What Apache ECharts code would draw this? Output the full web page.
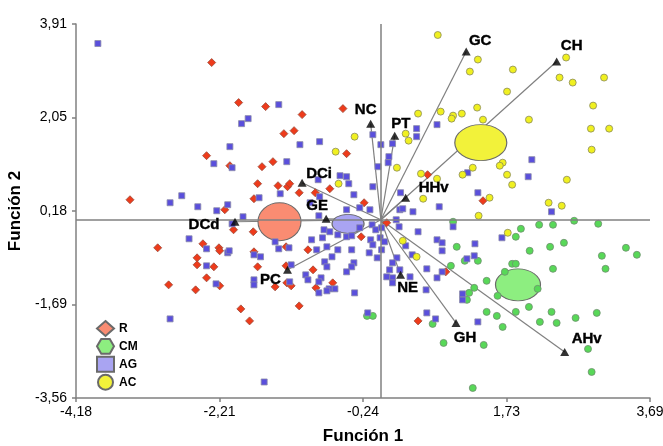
<!DOCTYPE html>
<html>
<head>
<meta charset="utf-8">
<script src="https://cdn.jsdelivr.net/npm/echarts@6/dist/echarts.min.js"></script>
<style>
  html, body { margin: 0; padding: 0; background: #fff; }
  #main { width: 663px; height: 446px; }
</style>
</head>
<body>
<div id="main"></div>
<script>
// Etiquetas de los ejes (coma decimal, como en el original)
const xTickValues = [-4.18, -2.2125, -0.245, 1.7225, 3.69];
const xTickLabels = ['-4,18', '-2,21', '-0,24', '1,73', '3,69'];
const yTickValues = [-3.56, -1.6925, 0.175, 2.0425, 3.91];
const yTickLabels = ['-3,56', '-1,69', '0,18', '2,05', '3,91'];

const groups = ['R', 'CM', 'AG', 'AC'];

// Puntuaciones discriminantes (Función 1, Función 2)
const rPoints = [
  [-2.32, 3.14], [-1.95, 2.34], [-1.58, 2.26], [-1.08, 2.10], [-0.52, 2.22], [-1.33, 1.72],
  [-1.19, 1.78], [-2.39, 1.28], [-2.07, 1.08], [-1.63, 1.06], [-1.48, 1.16], [-1.69, 0.72],
  [-1.41, 0.68], [-1.28, 0.66], [-1.25, 0.72], [-1.12, 0.54], [-0.90, 0.54], [-0.70, 0.62],
  [-1.74, 0.42], [-2.14, 0.20], [-3.44, 0.40], [-0.23, 0.34], [-0.47, 1.32], [-2.02, -0.20],
  [-1.75, -0.24], [-3.06, -0.56], [-2.44, -0.48], [-2.22, -0.56], [-2.21, -0.62], [-1.74, -0.64],
  [-2.52, -0.76], [-2.52, -0.90], [-2.29, -0.94], [-1.69, -0.94], [-2.39, -1.16], [-2.91, -1.30],
  [-2.54, -1.40], [-2.21, -1.32], [-1.45, -1.34], [-1.29, -1.26], [-1.23, -1.32], [-1.30, -0.92],
  [-1.30, -0.54], [-1.12, -1.72], [-1.92, -1.78], [-1.80, -2.02], [-1.00, -0.60], [-0.93, -1.00],
  [-0.89, -1.36], [-0.66, -1.26], [0.51, -2.02], [0.89, -1.04], [-0.27, -0.34], [0.08, -0.06],
  [0.64, 0.90], [1.40, 0.38]
];
const cmPoints = [
  [0.99, -0.04], [1.92, -0.18], [1.85, -0.34], [2.17, -0.10], [2.36, -0.10], [2.65, -0.02],
  [2.98, -0.08], [1.04, -0.54], [2.04, -0.62], [2.32, -0.54], [2.51, -0.46], [3.36, -0.56],
  [3.51, -0.70], [3.03, -0.72], [3.08, -0.98], [2.36, -0.98], [1.80, -0.88], [1.85, -0.88],
  [1.33, -0.82], [1.15, -0.82], [0.96, -0.92], [1.45, -1.22], [1.28, -1.36], [1.21, -1.46],
  [1.70, -1.04], [2.15, -1.38], [1.60, -1.52], [1.45, -1.84], [1.59, -1.92], [1.67, -2.14],
  [1.85, -1.84], [2.03, -1.74], [2.18, -2.04], [2.34, -1.84], [2.41, -2.06], [2.67, -1.96],
  [2.96, -1.86], [0.71, -2.08], [0.86, -2.46], [1.41, -2.50], [2.84, -2.58], [2.89, -3.04],
  [1.26, -3.36], [-0.19, -1.92], [-0.11, -1.92], [1.18, -1.60]
];
const agPoints = [
  [-3.88, 3.52], [-1.40, 2.30], [-1.91, 1.92], [-1.82, 2.02], [-2.07, 1.46], [-1.11, 1.50],
  [-0.84, 1.56], [-0.11, 1.70], [0.00, 1.50], [0.16, 1.52], [0.49, 1.82], [0.49, 1.66],
  [0.77, 1.90], [-2.29, 1.12], [-2.04, 1.04], [-1.29, 1.16], [-1.38, 0.52], [-1.67, 0.44],
  [-2.89, 0.34], [-2.73, 0.48], [-2.51, 0.26], [-2.25, 0.18], [-2.10, 0.30], [-1.89, 0.06],
  [-2.63, -0.38], [-2.39, -0.92], [-2.26, -1.28], [-2.04, -0.08], [-2.10, -0.66], [-1.74, -0.70],
  [-1.74, -1.20], [-1.74, -1.30], [-1.45, -0.44], [-1.26, -0.56], [-1.23, -0.90], [-2.89, -1.98],
  [-0.86, 0.80], [-0.56, 0.88], [-0.47, 0.86], [-0.44, 0.72], [-0.97, 0.34], [-0.84, 0.46],
  [-0.37, 0.50], [-0.47, 0.20], [-0.29, 0.24], [-0.15, 0.20], [-0.11, 0.66], [-0.04, 1.06],
  [0.11, 1.26], [0.10, 1.14], [0.26, 0.20], [0.25, -0.14], [0.21, 0.00], [0.44, 0.16],
  [-0.85, 0.08], [-0.78, -0.20], [-0.70, -0.24], [-0.59, -0.30], [-0.47, -0.34], [-0.40, -0.32],
  [-0.29, -0.16], [-0.12, -0.10], [-0.07, -0.20], [0.01, -0.16], [-0.01, -0.36], [0.05, -0.44],
  [-0.14, -0.40], [-0.11, -0.50], [-0.74, -0.54], [-0.40, -0.60], [0.01, -0.60], [-2.39, -0.58],
  [-2.08, -0.62], [-1.65, -0.74], [-0.67, -0.74], [-0.37, -0.86], [-0.40, -0.94], [-0.05, -0.76],
  [0.22, -0.76], [0.16, -0.86], [0.12, -1.00], [0.16, -1.16], [0.26, -1.00], [-1.25, -1.24],
  [-1.40, -0.58], [-0.36, -1.46], [-0.63, -1.38], [-1.03, -1.10], [-0.82, -1.16], [-0.71, -1.38],
  [-0.95, -0.40], [-0.80, -0.36], [-0.88, -0.60], [-0.59, -0.60], [-0.16, -0.66], [0.34, -0.52],
  [0.51, -0.24], [0.99, -0.14], [0.77, -0.40], [0.84, -0.46], [0.84, -0.62], [1.29, -0.48],
  [-0.77, -0.84], [-0.74, -0.94], [-0.47, -1.04], [0.08, -1.14], [0.16, -1.26], [0.40, -1.14],
  [0.63, -0.98], [0.77, -1.16], [0.84, -1.04], [0.62, -1.40], [-1.00, -1.20], [-0.85, -1.24],
  [-0.85, -1.46], [-0.74, -1.42], [-0.18, -1.86], [0.63, -1.86], [0.75, -1.98], [1.12, -1.60],
  [1.33, -2.04], [-1.60, -3.24], [2.07, 1.20], [2.02, 0.86], [1.33, 0.54], [0.80, 0.26],
  [1.19, 0.94], [2.34, 0.16], [0.30, 0.22], [0.27, 0.54], [0.43, -0.70], [1.18, -0.78],
  [1.28, -0.72], [1.66, -0.36], [1.12, -1.48]
];
const acPoints = [
  [0.78, 3.69], [1.33, 3.20], [1.22, 2.96], [1.81, 3.00], [1.73, 2.56], [2.54, 3.24],
  [2.45, 2.84], [2.63, 2.74], [3.06, 2.84], [2.91, 2.28], [2.88, 1.82], [3.13, 1.82],
  [2.89, 1.40], [2.03, 2.00], [1.40, 2.00], [1.32, 2.24], [1.11, 2.12], [0.99, 2.08],
  [0.97, 2.02], [0.82, 2.16], [0.51, 2.12], [0.34, 1.72], [0.38, 1.58], [-0.36, 1.66],
  [1.67, 1.14], [1.63, 1.08], [1.26, 1.04], [1.12, 0.90], [1.73, 0.90], [1.80, 0.70],
  [2.55, 0.80], [0.55, 0.92], [0.77, 0.82], [0.58, 0.42], [1.49, 0.44], [2.30, 0.34],
  [2.48, 0.28], [1.34, 0.08], [1.74, -0.26], [0.30, -0.42], [0.49, -0.74], [-0.62, 1.36],
  [-0.58, 0.72], [0.22, 1.04]
];

// Centroides de los grupos (mismo orden que groups)
const centroids = [[-1.39, -0.04], [1.88, -1.30], [-0.45, -0.08], [1.37, 1.54]];

// Vectores de las variables (cargas)
const vectorNames = ['NC', 'PT', 'GC', 'CH', 'HHv', 'DCi', 'GE', 'DCd', 'PC', 'NE', 'GH', 'AHv'];
const vectorEnds = [
  [-0.14, 1.92], [0.19, 1.68], [1.17, 3.36], [2.41, 3.16], [0.34, 0.44], [-1.08, 0.74],
  [-0.75, 0.02], [-2.00, -0.04], [-1.28, -1.00], [0.27, -1.10], [1.03, -2.06], [2.52, -2.64]
];

// Estilos
const pointStyle = {
  R: { symbol: 'diamond', size: 8, color: '#EE3B1B', border: '#9A4A3A' },
  CM: { symbol: 'circle', size: 7, color: '#58D858', border: '#6E8E6E' },
  AG: { symbol: 'rect', size: 6, color: '#5A4FDC', border: '#8A8AAA' },
  AC: { symbol: 'circle', size: 7, color: '#F0F020', border: '#8A8A5A' }
};
const ellipseStyle = {
  R: { size: [43, 38], color: '#FA8C72' },
  CM: { size: [45, 32], color: '#8DEE80' },
  AG: { size: [32, 19], color: '#A9A4F2' },
  AC: { size: [52, 36], color: '#F2F23A' }
};
const legendIcons = {
  R: 'diamond',
  CM: 'path://M5,0 L15,0 L20,8.66 L15,17.32 L5,17.32 L0,8.66 Z',
  AG: 'rect',
  AC: 'circle'
};
const labelOffsets = {
  NC: [-5, -14], PT: [6, -12], GC: [14, -11], CH: [15, -16], HHv: [28, -10], DCi: [17, -9],
  GE: [-9, -13], DCd: [-31, 3], PC: [-17, 10], NE: [7, 13], GH: [9, 15], AHv: [22, -13]
};

const pointsByGroup = { R: rPoints, CM: cmPoints, AG: agPoints, AC: acPoints };
const axisGray = '#808080';
const fontFamily = '"Liberation Sans", Arial, sans-serif';

function tickFormatter(values, labels) {
  return function (v) {
    let best = 0;
    for (let i = 1; i < values.length; i++) {
      if (Math.abs(values[i] - v) < Math.abs(values[best] - v)) best = i;
    }
    return labels[best];
  };
}

const chart = echarts.init(document.getElementById('main'), null, { renderer: 'canvas' });

const series = [];

// Ejes centrales (0,0)
series.push({
  type: 'line',
  data: [],
  z: 1,
  markLine: {
    silent: true,
    symbol: 'none',
    label: { show: false },
    animation: false,
    lineStyle: { color: axisGray, width: 1.5, type: 'solid' },
    data: [{ xAxis: 0 }, { yAxis: 0 }]
  }
});

// Vectores
series.push({
  type: 'lines',
  coordinateSystem: 'cartesian2d',
  z: 2,
  silent: true,
  lineStyle: { color: axisGray, width: 1.2, opacity: 1 },
  data: vectorEnds.map(e => ({ coords: [[0, 0], e] }))
});

// Centroides (elipses) -> también alimentan la leyenda
groups.forEach((g, i) => {
  series.push({
    name: g,
    type: 'scatter',
    z: 3,
    symbol: 'circle',
    symbolSize: ellipseStyle[g].size,
    itemStyle: { color: ellipseStyle[g].color, borderColor: '#6a6a6a', borderWidth: 1, opacity: 1 },
    data: [centroids[i]]
  });
});

// Casos individuales
groups.forEach(g => {
  const s = pointStyle[g];
  series.push({
    name: g + '_casos',
    type: 'scatter',
    z: 4,
    symbol: s.symbol,
    symbolSize: s.size,
    itemStyle: { color: s.color, borderColor: s.border, borderWidth: 0.8, opacity: 1 },
    data: pointsByGroup[g]
  });
});

// Puntas de flecha y etiquetas
series.push({
  type: 'scatter',
  z: 5,
  symbol: 'triangle',
  symbolSize: [9, 8],
  itemStyle: { color: '#000' },
  label: {
    show: true,
    position: 'inside',
    color: '#000',
    opacity: 1,
    fontWeight: 'bold',
    fontSize: 15,
    fontFamily: fontFamily,
    textBorderColor: '#000',
    textBorderWidth: 0.4,
    formatter: p => p.name
  },
  data: vectorNames.map((n, i) => ({
    name: n,
    value: vectorEnds[i],
    label: { offset: labelOffsets[n], color: '#000' }
  }))
});

const option = {
  animation: false,
  backgroundColor: '#fff',
  grid: { left: 76, right: 13, top: 24, bottom: 48, outerBoundsMode: 'none' },
  legend: {
    orient: 'vertical',
    left: 96,
    top: 320,
    padding: 0,
    itemGap: 1,
    itemWidth: 17,
    itemHeight: 15,
    selectedMode: false,
    textStyle: { fontWeight: 'bold', fontSize: 12, color: '#000', fontFamily: fontFamily },
    data: groups.map(g => ({ name: g, icon: legendIcons[g] }))
  },
  xAxis: {
    type: 'value',
    min: -4.18,
    max: 3.69,
    name: 'Función 1',
    nameLocation: 'middle',
    nameGap: 30,
    nameTextStyle: { fontWeight: 'bold', fontSize: 17, color: '#000', fontFamily: fontFamily },
    axisLine: { onZero: false, lineStyle: { color: axisGray, width: 1.5 } },
    axisTick: { show: true, length: 4, customValues: xTickValues, lineStyle: { color: axisGray, width: 1.5 } },
    axisLabel: {
      customValues: xTickValues,
      formatter: tickFormatter(xTickValues, xTickLabels),
      margin: 7,
      fontSize: 14,
      color: '#000',
      fontFamily: fontFamily
    },
    splitLine: { show: false }
  },
  yAxis: {
    type: 'value',
    min: -3.56,
    max: 3.91,
    name: 'Función 2',
    nameLocation: 'middle',
    nameGap: 48,
    nameTextStyle: { fontWeight: 'bold', fontSize: 17, color: '#000', fontFamily: fontFamily },
    axisLine: { onZero: false, lineStyle: { color: axisGray, width: 1.5 } },
    axisTick: { show: true, length: 4, customValues: yTickValues, lineStyle: { color: axisGray, width: 1.5 } },
    axisLabel: {
      customValues: yTickValues,
      formatter: tickFormatter(yTickValues, yTickLabels),
      margin: 9,
      fontSize: 14,
      color: '#000',
      fontFamily: fontFamily
    },
    splitLine: { show: false }
  },
  series: series
};

chart.setOption(option);
</script>
</body>
</html>
